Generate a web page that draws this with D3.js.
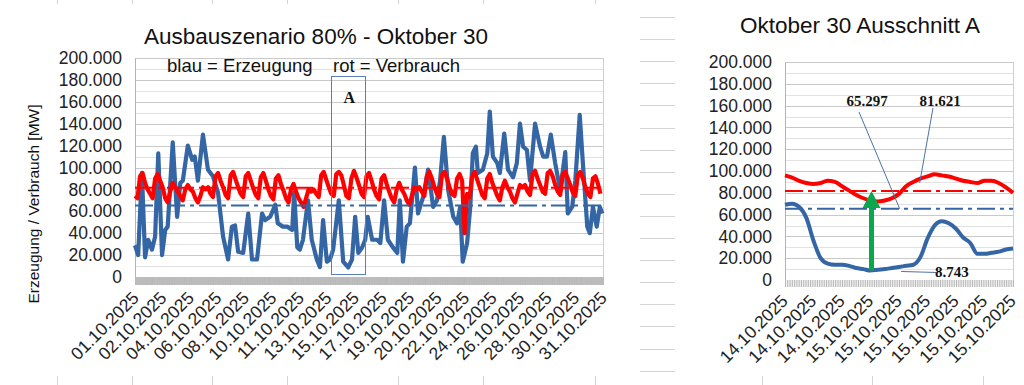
<!DOCTYPE html>
<html>
<head>
<meta charset="utf-8">
<script src="https://cdn.jsdelivr.net/npm/d3@7"></script>
<style>
  body { margin: 0; background: #fff; }
  svg { display: block; font-family: "Liberation Sans", Arial, sans-serif; }
</style>
</head>
<body>
<svg id="chart" width="1024" height="385"></svg>
<script>
// Data : Oktober (Stunden seit 01.10. 00:00), Werte in MW

var blueHours = [0, 5, 11, 16, 21, 27, 32, 37, 43, 48, 52, 60, 67, 72, 76, 84, 91, 95, 100, 108,
  116, 124, 132, 140, 148, 154, 159, 164, 172, 180, 186, 194, 202, 207, 215, 223, 227, 235, 242, 250,
  253, 258, 262, 267, 275, 281, 289, 294, 299, 305, 310, 315, 324, 331, 339, 345, 350, 355, 361, 366,
  370, 377, 385, 390, 396, 402, 410, 417, 421, 426, 432, 437, 445, 450, 458, 466, 474, 480, 485, 491,
  498, 506, 512, 517, 521, 528, 533, 537, 542, 545, 553, 560, 564, 569, 576, 580, 587, 593, 601, 607,
  612, 617, 623, 628, 636, 644, 649, 655, 661, 668, 676, 684, 688, 695, 700, 707, 712, 719, 723, 728,
  734, 739, 743];
var blueValues = [29, 20, 95, 18, 34, 25, 37, 113, 20, 43, 46, 123, 55, 86, 88, 120, 107, 110, 88, 130,
  98, 92, 77, 37, 16, 46, 47, 23, 22, 58, 16, 16, 58, 52, 55, 66, 49, 46, 46, 43,
  77, 27, 25, 34, 70, 34, 16, 9, 52, 14, 16, 25, 70, 14, 8.7, 16, 55, 22, 27, 34,
  55, 34, 34, 31, 70, 34, 27, 22, 70, 14, 46, 49, 100, 58, 73, 98, 64, 70, 88, 128,
  79, 55, 49, 64, 14, 31, 64, 113, 119, 95, 98, 113, 151, 110, 104, 95, 131, 98, 91, 104,
  140, 119, 116, 88, 140, 119, 110, 110, 130, 104, 79, 114, 58, 64, 88, 148, 104, 46, 40, 64,
  46, 64, 58];

// Verbrauch, alle 4 Stunden (00, 04, 08, 12, 16, 20 Uhr)
var redValues = [
  74, 72, 92, 95, 86, 80,   76, 72, 90, 94, 88, 82,   72, 68, 78, 86, 82, 78,
  74, 70, 80, 84, 80, 78,   72, 68, 74, 82, 80, 82,   76, 73, 92, 95, 88, 82,
  75, 72, 93, 96, 89, 82,   76, 73, 92, 95, 88, 81,   75, 72, 91, 95, 88, 80,
  74, 71, 90, 93, 85, 79,   72, 68, 80, 85, 78, 72,   68, 64, 72, 80, 78, 80,
  76, 73, 93, 96, 89, 82,   76, 74, 94, 96, 93, 84,   74, 72, 90, 97, 91, 84,
  76, 73, 92, 95, 88, 80,   74, 71, 90, 93, 85, 78,   72, 68, 80, 86, 80, 76,
  70, 66, 74, 82, 80, 82,   78, 74, 92, 96, 90, 82,   76, 73, 93, 96, 90, 82,
  76, 74, 90, 94, 88, 40,   76, 73, 92, 96, 89, 82,   75, 72, 90, 94, 86, 80,
  74, 70, 82, 88, 82, 78,   72, 68, 76, 84, 82, 84,   78, 75, 94, 97, 90, 84,
  78, 76, 95, 97, 92, 84,   78, 75, 94, 96, 90, 84,   77, 74, 93, 96, 90, 82,
  76, 73, 90, 92, 85, 76];

var monthLabels = ["01.10.2025", "02.10.2025", "04.10.2025", "06.10.2025", "08.10.2025", "10.10.2025",
  "11.10.2025", "13.10.2025", "15.10.2025", "17.10.2025", "19.10.2025", "20.10.2025", "22.10.2025",
  "24.10.2025", "26.10.2025", "28.10.2025", "30.10.2025", "31.10.2025"];

var avgErzeugung = 65297,
    avgVerbrauch = 81621,
    minErzeugung = 8743;

// Ausschnitt A : stündlich ab 14.10. 14:00
var zoomBlue = [69, 70, 67, 57, 36, 20, 15, 14, 14, 13, 11, 10, 8.743, 9.5, 10, 11, 12, 13, 14, 21,
  38, 50, 54, 52, 47, 39, 34, 24, 24, 25, 26, 28, 29];
var zoomRed = [96, 94, 91, 89, 88, 89, 91, 90, 86, 82, 78, 75, 73, 72, 73, 75, 79, 86, 90, 93,
  95, 97, 96, 95, 93, 91, 90, 89, 91, 91, 89, 85, 80];
var zoomLabels = ["14.10.2025", "14.10.2025", "14.10.2025", "15.10.2025", "15.10.2025", "15.10.2025",
  "15.10.2025", "15.10.2025", "15.10.2025"];
var zoomMinIndex = 12;

var blue = "#3465a4", red = "#ff0000", green = "#0aa84a";

var de = d3.formatLocale({decimal: ",", thousands: ".", grouping: [3], currency: ["", " €"]});
var fmt = de.format(",.0f");

var svg = d3.select("#chart");
svg.append("rect").attr("width", 1024).attr("height", 385).attr("fill", "#fff");

// Tabellen-Gitter im Hintergrund
var sheet = svg.append("g").attr("stroke", "#d4d4d4").attr("stroke-width", 1);
[57, 132, 212, 287, 398, 483, 595].forEach(function(x) {
  sheet.append("line").attr("x1", x + 0.5).attr("x2", x + 0.5).attr("y1", 0).attr("y2", 4);
});
[57, 132, 212, 287, 398, 483, 595, 762, 872, 983].forEach(function(x) {
  sheet.append("line").attr("x1", x + 0.5).attr("x2", x + 0.5).attr("y1", 376).attr("y2", 385);
});
d3.range(17).forEach(function(i) {
  var y = Math.round(17 + i * 22.1) + 0.5;
  sheet.append("line").attr("x1", 640).attr("x2", 675).attr("y1", y).attr("y2", y);
});

function drawFrame(g, x, y, x0, x1, y0, y1) {
  // minor / major grid
  d3.range(10000, 200001, 20000).forEach(function(v) {
    g.append("line").attr("x1", x0).attr("x2", x1)
      .attr("y1", Math.round(y(v)) + 0.5).attr("y2", Math.round(y(v)) + 0.5)
      .attr("stroke", "#e2e2e2");
  });
  d3.range(20000, 200001, 20000).forEach(function(v) {
    g.append("line").attr("x1", x0).attr("x2", x1)
      .attr("y1", Math.round(y(v)) + 0.5).attr("y2", Math.round(y(v)) + 0.5)
      .attr("stroke", "#c9c9c9");
  });
  g.append("line").attr("x1", x1 + 0.5).attr("x2", x1 + 0.5).attr("y1", y1).attr("y2", y0)
    .attr("stroke", "#cfcfcf");

  var ya = g.append("g").attr("transform", "translate(" + x0 + ",0)")
    .call(d3.axisLeft(y).tickValues(d3.range(0, 200001, 20000)).tickFormat(fmt).tickSize(0).tickPadding(13));
  ya.select(".domain").attr("stroke", "#b3b3b3");
  ya.selectAll("text").attr("font-size", 17.5).attr("fill", "#222").attr("font-family", "Liberation Sans, Arial, sans-serif");
}

// ---------- linkes Diagramm ----------
var L = {x0: 135, x1: 603, y0: 277, y1: 58};
var xL = d3.scaleLinear().domain([0, 744]).range([L.x0, L.x1]);
var yL = d3.scaleLinear().domain([0, 200000]).range([L.y0, L.y1]);
var gL = svg.append("g");
drawFrame(gL, xL, yL, L.x0, L.x1, L.y0, L.y1);

gL.append("g").attr("transform", "translate(0," + L.y0 + ")")
  .call(d3.axisBottom(xL).tickValues(d3.range(0, 745, 1)).tickSize(8).tickFormat(""))
  .call(function(a) { a.select(".domain").remove(); a.selectAll("line").attr("stroke", "#b8b8b8"); });

gL.selectAll(".mlabel").data(monthLabels).enter().append("text")
  .attr("class", "mlabel")
  .attr("transform", function(d, i) { return "translate(" + (xL(i * 744 / 17) + 5) + ",299) rotate(-45)"; })
  .attr("text-anchor", "end").attr("font-size", 17.5).attr("fill", "#222")
  .text(function(d) { return d; });

var lineL = d3.line().x(function(d) { return xL(d[0]); }).y(function(d) { return yL(d[1] * 1000); });

gL.append("path").datum(d3.zip(blueHours, blueValues)).attr("d", lineL)
  .attr("fill", "none").attr("stroke", blue).attr("stroke-width", 4.2).attr("stroke-linejoin", "round");
gL.append("path").datum(redValues.map(function(v, i) { return [i * 4, v]; })).attr("d", lineL)
  .attr("fill", "none").attr("stroke", red).attr("stroke-width", 4.2).attr("stroke-linejoin", "round");

gL.append("line").attr("x1", L.x0).attr("x2", L.x1).attr("y1", yL(avgVerbrauch)).attr("y2", yL(avgVerbrauch))
  .attr("stroke", red).attr("stroke-width", 2).attr("stroke-dasharray", "18,5,4,5");
gL.append("line").attr("x1", L.x0).attr("x2", L.x1).attr("y1", yL(avgErzeugung)).attr("y2", yL(avgErzeugung))
  .attr("stroke", blue).attr("stroke-width", 2).attr("stroke-dasharray", "18,5,4,5");

// Ausschnitt A
gL.append("rect").attr("x", Math.round(xL(312)) + 0.5).attr("y", Math.round(yL(184000)) + 0.5)
  .attr("width", Math.round(xL(366) - xL(312))).attr("height", Math.round(yL(3500) - yL(184000)))
  .attr("fill", "none").attr("stroke", "#5b7fb5").attr("stroke-width", 1);
gL.append("text").attr("x", (xL(312) + xL(366)) / 2 + 1).attr("y", 103).attr("text-anchor", "middle")
  .attr("font-family", "Liberation Serif, Times New Roman, serif").attr("font-weight", "bold")
  .attr("font-size", 16).attr("fill", "#111").text("A");

svg.append("text").attr("x", 316).attr("y", 44).attr("text-anchor", "middle")
  .attr("font-size", 22.5).attr("fill", "#111").text("Ausbauszenario 80% - Oktober 30");
svg.append("text").attr("x", 167).attr("y", 72).attr("font-size", 18.5).attr("fill", "#111").text("blau = Erzeugung");
svg.append("text").attr("x", 333).attr("y", 72).attr("font-size", 18.5).attr("fill", "#111").text("rot = Verbrauch");
svg.append("text").attr("transform", "translate(39,204) rotate(-90)").attr("text-anchor", "middle")
  .attr("font-size", 15.5).attr("fill", "#111").text("Erzeugung / Verbrauch [MW]");

// ---------- rechtes Diagramm ----------
var R = {x0: 785, x1: 1013, y0: 280, y1: 62};
var xR = d3.scaleLinear().domain([0, zoomBlue.length - 1]).range([R.x0, R.x1]);
var yR = d3.scaleLinear().domain([0, 200000]).range([R.y0, R.y1]);
var gR = svg.append("g");
drawFrame(gR, xR, yR, R.x0, R.x1, R.y0, R.y1);

gR.append("g").attr("transform", "translate(0," + R.y0 + ")")
  .call(d3.axisBottom(xR).tickValues(d3.range(0, zoomBlue.length - 0.9, 0.25)).tickSize(7).tickFormat(""))
  .call(function(a) { a.select(".domain").remove(); a.selectAll("line").attr("stroke", "#b8b8b8"); });

gR.selectAll(".zlabel").data(zoomLabels).enter().append("text")
  .attr("class", "zlabel")
  .attr("transform", function(d, i) { return "translate(" + (xR(i * 4) + 4) + ",302) rotate(-45)"; })
  .attr("text-anchor", "end").attr("font-size", 17.5).attr("fill", "#222")
  .text(function(d) { return d; });

var lineR = d3.line().x(function(d, i) { return xR(i); }).y(function(d) { return yR(d * 1000); }).curve(d3.curveMonotoneX);

gR.append("line").attr("x1", R.x0).attr("x2", R.x1).attr("y1", yR(avgVerbrauch)).attr("y2", yR(avgVerbrauch))
  .attr("stroke", red).attr("stroke-width", 2).attr("stroke-dasharray", "18,5,4,5");
gR.append("line").attr("x1", R.x0).attr("x2", R.x1).attr("y1", yR(avgErzeugung)).attr("y2", yR(avgErzeugung))
  .attr("stroke", blue).attr("stroke-width", 2).attr("stroke-dasharray", "18,5,4,5");

gR.append("path").datum(zoomRed).attr("d", lineR)
  .attr("fill", "none").attr("stroke", red).attr("stroke-width", 4).attr("stroke-linejoin", "round");
gR.append("path").datum(zoomBlue).attr("d", lineR)
  .attr("fill", "none").attr("stroke", blue).attr("stroke-width", 4).attr("stroke-linejoin", "round");

// Pfeil vom Minimum zum Durchschnittsverbrauch
var ax = xR(zoomMinIndex) + 1, aTop = yR(avgVerbrauch), aBot = yR(minErzeugung);
gR.append("line").attr("x1", ax).attr("x2", ax).attr("y1", aBot).attr("y2", aTop + 16)
  .attr("stroke", green).attr("stroke-width", 5);
gR.append("path").attr("d", "M" + (ax - 9) + "," + (aTop + 17) + "L" + ax + "," + aTop + "L" + (ax + 9) + "," + (aTop + 17) + "Z")
  .attr("fill", green);

// Beschriftungen
var lead = gR.append("g").attr("stroke", "#4a72aa").attr("stroke-width", 1).attr("fill", "none");
lead.append("line").attr("x1", 859).attr("y1", 112).attr("x2", xR(16.1)).attr("y2", yR(avgErzeugung));
lead.append("line").attr("x1", 933).attr("y1", 108).attr("x2", xR(18.9)).attr("y2", yR(89000));
lead.append("line").attr("x1", xR(16.3)).attr("y1", yR(minErzeugung) + 1).attr("x2", 936).attr("y2", yR(minErzeugung) + 2);

var serif = "Liberation Serif, Times New Roman, serif";
gR.append("text").attr("x", 867).attr("y", 106).attr("text-anchor", "middle").attr("font-family", serif)
  .attr("font-weight", "bold").attr("font-size", 15).attr("fill", "#111").text(fmt(avgErzeugung));
gR.append("text").attr("x", 940).attr("y", 106).attr("text-anchor", "middle").attr("font-family", serif)
  .attr("font-weight", "bold").attr("font-size", 15).attr("fill", "#111").text(fmt(avgVerbrauch));
gR.append("text").attr("x", 935).attr("y", 277).attr("font-family", serif)
  .attr("font-weight", "bold").attr("font-size", 15).attr("fill", "#111").text(fmt(minErzeugung));

svg.append("text").attr("x", 860).attr("y", 33).attr("text-anchor", "middle")
  .attr("font-size", 22.5).attr("fill", "#111").text("Oktober 30 Ausschnitt A");
</script>
</body>
</html>
